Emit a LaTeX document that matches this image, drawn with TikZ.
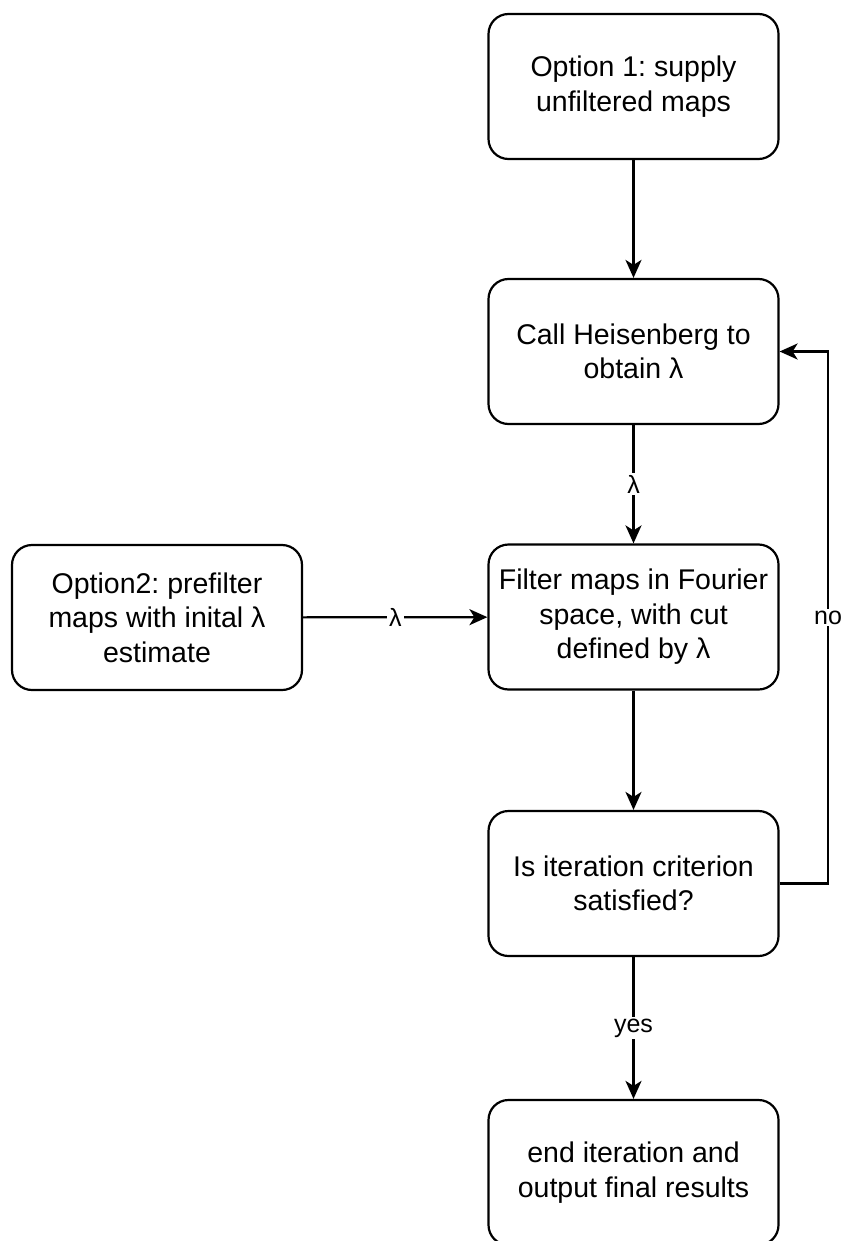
\documentclass[tikz,border=0pt]{standalone}
\usepackage{fontspec}
\setmainfont{Liberation Sans}
\usetikzlibrary{arrows.meta}
\frenchspacing
\begin{document}
\begin{tikzpicture}[x=1pt,y=-1pt,
  box/.style={draw=black, line width=2.2pt, rounded corners=20pt, fill=white,
    minimum width=290pt, minimum height=145pt, inner sep=0pt, align=center,
    font=\fontsize{28.5}{34.5}\selectfont},
  conn/.style={line width=2.2pt, -{Stealth[length=18pt,width=16pt,inset=5pt]}},
  lab/.style={fill=white, inner sep=2pt, font=\fontsize{25}{29}\selectfont}]
\path[use as bounding box] (0,0) rectangle (842,1241);
\node[box] (b1) at (633.5,86.5) {Option 1: supply\\unfiltered maps};
\node[box] (b2) at (633.5,351.5) {Call Heisenberg to\\obtain λ};
\node[box] (b3) at (633.5,617) {Filter maps in Fourier\\space, with cut\\defined by λ};
\node[box] (b4) at (633.5,883.5) {Is iteration criterion\\satisfied?};
\node[box] (b5) at (633.5,1172.5) {end iteration and\\output final results};
\node[box] (op2) at (157,617.5) {Option2: prefilter\\maps with inital λ\\estimate};
\coordinate (c1) at (828,883.5);
\coordinate (c2) at (828,351.5);
\draw[conn] (b1) -- (b2);
\draw[conn] (b2) -- node[lab] (l1) {λ} (b3);
\draw[conn] (op2) -- node[lab] (l2) {λ} (b3);
\draw[conn] (b3) -- (b4);
\draw[conn] (b4) -- node[lab] (l3) {yes} (b5);
\draw[conn] (b4.east) -- (c1) -- node[lab] (l4) {no} (c2) -- (b2.east);
\end{tikzpicture}
\end{document}
